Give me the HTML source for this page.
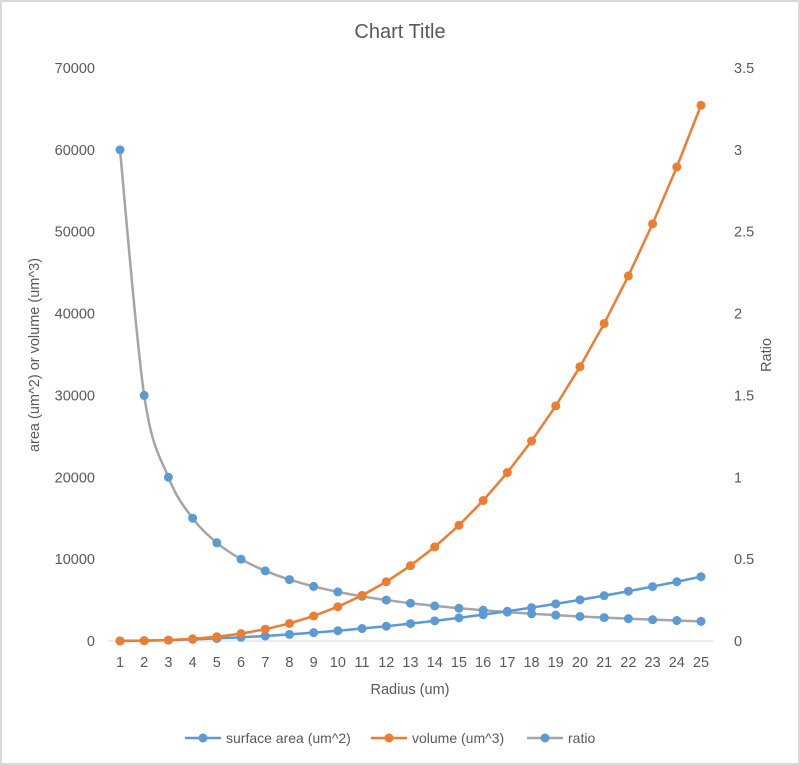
<!DOCTYPE html><html><head><style>body{margin:0;background:#fff}svg{display:block;font-family:"Liberation Sans",sans-serif}</style></head><body>
<svg id="s" width="800" height="765" xmlns="http://www.w3.org/2000/svg">
<rect x="1" y="1" width="798" height="763" fill="#fff" stroke="#d9d9d9" stroke-width="2"/>
<text x="400" y="38" text-anchor="middle" font-size="20" fill="#595959">Chart Title</text>
<line x1="108" y1="641" x2="713" y2="641" stroke="#d9d9d9" stroke-width="1"/>
<g font-size="14.5" fill="#595959" text-anchor="end" id="yl"></g>
<g font-size="14.5" fill="#595959" text-anchor="start" id="yr"></g>
<g font-size="14.5" fill="#595959" text-anchor="middle" id="xl"></g>
<text x="410" y="694" text-anchor="middle" font-size="14.5" fill="#595959">Radius (um)</text>
<text transform="translate(39,355) rotate(-90)" text-anchor="middle" font-size="14.5" fill="#595959">area (um^2) or volume (um^3)</text>
<text transform="translate(771,355) rotate(-90)" text-anchor="middle" font-size="14.5" fill="#595959">Ratio</text>
<g id="lines"></g>
<g font-size="14" fill="#595959">
<line x1="185" y1="738" x2="221" y2="738" stroke="#5b9bd5" stroke-width="2.5"/><circle cx="203" cy="738" r="4.5" fill="#5b9bd5"/>
<text x="226" y="743">surface area (um^2)</text>
<line x1="371" y1="738" x2="407" y2="738" stroke="#ed7d31" stroke-width="2.5"/><circle cx="389" cy="738" r="4.5" fill="#ed7d31"/>
<text x="412" y="743">volume (um^3)</text>
<line x1="527" y1="738" x2="563" y2="738" stroke="#a5a5a5" stroke-width="2.5"/><circle cx="545" cy="738" r="4.5" fill="#5b9bd5"/>
<text x="568" y="743">ratio</text>
</g>
</svg>
<script>
(function(){
var N="http://www.w3.org/2000/svg";
function el(p,t,a,txt){var e=document.createElementNS(N,t);for(var k in a)e.setAttribute(k,a[k]);if(txt!=null)e.textContent=txt;document.getElementById(p).appendChild(e);}
var y0=641,yt=68;
function X(r){return 120+(r-1)*(581/24);}
function YL(v){return y0-v*(y0-yt)/70000;}
function YR(v){return y0-v*(y0-yt)/3.5;}
for(var i=0;i<=7;i++)el('yl','text',{x:95,y:YL(i*10000)+5},String(i*10000));
for(var i=0;i<=7;i++)el('yr','text',{x:734,y:YR(i*0.5)+5},String(i*0.5));
for(var r=1;r<=25;r++)el('xl','text',{x:X(r),y:667},String(r));
function series(f,Y,col,mc,smooth){var pts=[];for(var r=1;r<=25;r++)pts.push([X(r),Y(f(r))]);
var d='M'+pts[0].join(',');
for(var i=0;i<pts.length-1;i++){var p0=pts[Math.max(0,i-1)],p1=pts[i],p2=pts[i+1],p3=pts[Math.min(pts.length-1,i+2)];
if(smooth){var t=1/6;d+=' C'+(p1[0]+(p2[0]-p0[0])*t)+','+(p1[1]+(p2[1]-p0[1])*t)+' '+(p2[0]-(p3[0]-p1[0])*t)+','+(p2[1]-(p3[1]-p1[1])*t)+' '+p2.join(',');}
else d+=' L'+p2.join(',');}
el('lines','path',{d:d,fill:'none',stroke:col,'stroke-width':2.5,'stroke-linejoin':'round'});
pts.forEach(function(p){el('lines','circle',{cx:p[0],cy:p[1],r:4.5,fill:mc});});}
series(function(r){return 3/r;},YR,'#a5a5a5','#5b9bd5',true);
series(function(r){return 4*Math.PI*r*r;},YL,'#5b9bd5','#5b9bd5',false);
series(function(r){return 4/3*Math.PI*r*r*r;},YL,'#ed7d31','#ed7d31',false);
})();
</script>
</body></html>
